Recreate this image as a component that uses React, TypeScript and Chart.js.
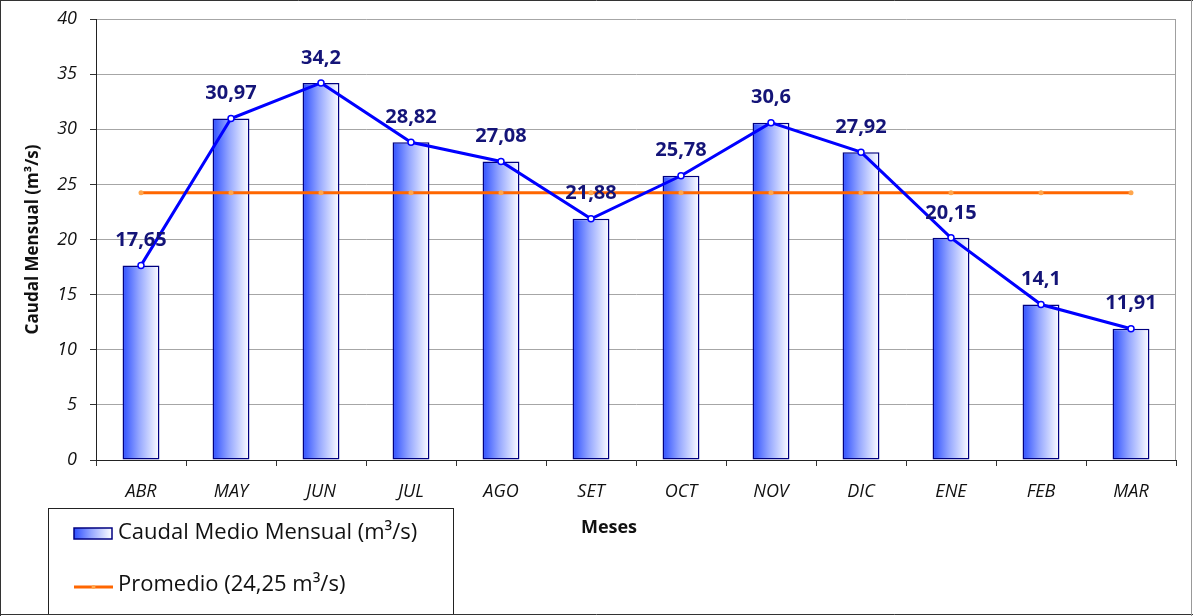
import React, { useEffect, useRef } from 'react';
import { Chart, registerables } from 'chart.js';

Chart.register(...registerables);

// ---- Data ----
const months = ['ABR', 'MAY', 'JUN', 'JUL', 'AGO', 'SET', 'OCT', 'NOV', 'DIC', 'ENE', 'FEB', 'MAR'];
const caudal = [17.65, 30.97, 34.2, 28.82, 27.08, 21.88, 25.78, 30.6, 27.92, 20.15, 14.1, 11.91];
const promedio = [24.25, 24.25, 24.25, 24.25, 24.25, 24.25, 24.25, 24.25, 24.25, 24.25, 24.25, 24.25];
const seriesLabels = ['Caudal Medio Mensual (m³/s)', 'Promedio (24,25 m³/s)'];
const yTitle = 'Caudal Mensual (m³/s)';
const xTitle = 'Meses';
const yMin = 0;
const yMax = 40;
const yStep = 5;

const FONT = '"Open Sans", sans-serif';
const BAR_FRAC = 0.41;
const NAVY = '#000080';
const BLUE = '#0000FF';
const ORANGE = '#FF6600';

function barGradient(ctx: CanvasRenderingContext2D, x0: number, x1: number) {
  const g = ctx.createLinearGradient(x0, 0, x1, 0);
  g.addColorStop(0, '#2E4FFF');
  g.addColorStop(0.45, '#95A7FF');
  g.addColorStop(1, '#FFFFFF');
  return g;
}

const fmt = (v: number) => String(v).replace('.', ',');

const decorPlugin = {
  id: 'decor',
  beforeDatasetsDraw(chart: any) {
    const { ctx, chartArea } = chart;
    ctx.save();
    ctx.strokeStyle = '#A0A0A0';
    ctx.lineWidth = 1;
    ctx.beginPath();
    ctx.moveTo(chartArea.right - 0.5, chartArea.top);
    ctx.lineTo(chartArea.right - 0.5, chartArea.bottom);
    ctx.stroke();
    ctx.restore();
  },
  afterDatasetsDraw(chart: any) {
    const { ctx } = chart;
    const meta = chart.getDatasetMeta(1);
    ctx.save();
    ctx.font = `bold 20px ${FONT}`;
    ctx.fillStyle = '#141478';
    ctx.textAlign = 'center';
    ctx.textBaseline = 'middle';
    meta.data.forEach((pt: any, i: number) => {
      ctx.fillText(fmt(caudal[i]), pt.x, pt.y - 25);
    });
    ctx.restore();
  },
  afterDraw(chart: any) {
    const { ctx, width, height } = chart;
    ctx.save();
    // X axis title
    ctx.font = `bold 18px ${FONT}`;
    ctx.fillStyle = '#111';
    ctx.textAlign = 'center';
    ctx.textBaseline = 'middle';
    ctx.fillText(xTitle, 609, 528);

    // Legend box
    const bx = 48, by = 508, bw = 405, bh = 106;
    ctx.fillStyle = '#FFFFFF';
    ctx.fillRect(bx, by, bw, bh);
    ctx.strokeStyle = '#222';
    ctx.lineWidth = 1;
    ctx.strokeRect(bx + 0.5, by + 0.5, bw, bh);

    // item 1: gradient swatch
    ctx.fillStyle = barGradient(ctx, 74, 112);
    ctx.fillRect(74, 528, 38, 11);
    ctx.strokeStyle = NAVY;
    ctx.lineWidth = 1.5;
    ctx.strokeRect(74, 528, 38, 11);

    ctx.font = `22px ${FONT}`;
    ctx.fillStyle = '#111';
    ctx.textAlign = 'left';
    ctx.textBaseline = 'middle';
    ctx.fillText(chart.data.datasets[2].label, 118, 533);

    // item 2: orange line swatch
    ctx.strokeStyle = ORANGE;
    ctx.lineWidth = 3;
    ctx.beginPath();
    ctx.moveTo(74, 587);
    ctx.lineTo(113, 587);
    ctx.stroke();
    ctx.fillStyle = '#FFA64D';
    ctx.beginPath();
    ctx.arc(93.5, 587, 2, 0, Math.PI * 2);
    ctx.fill();
    ctx.fillStyle = '#111';
    ctx.fillText(chart.data.datasets[0].label, 118, 585);

    // Outer border
    ctx.lineWidth = 1;
    ctx.strokeStyle = '#333';
    ctx.beginPath();
    ctx.moveTo(0, 0.5);
    ctx.lineTo(width, 0.5);
    ctx.moveTo(0.5, 0);
    ctx.lineTo(0.5, height);
    ctx.moveTo(0, height - 1.5);
    ctx.lineTo(width, height - 1.5);
    ctx.stroke();
    ctx.strokeStyle = '#999';
    ctx.beginPath();
    ctx.moveTo(width - 1.5, 0);
    ctx.lineTo(width - 1.5, height);
    ctx.stroke();
    ctx.restore();
  },
};

export default function App() {
  const canvasRef = useRef<HTMLCanvasElement | null>(null);

  useEffect(() => {
    document.body.style.margin = '0';
    const canvas = canvasRef.current;
    if (!canvas) return;
    const chart = new Chart(canvas, {
      type: 'bar',
      data: {
        labels: months,
        datasets: [
          {
            type: 'line',
            label: seriesLabels[1],
            data: promedio,
            borderColor: ORANGE,
            borderWidth: 3,
            pointRadius: 2.5,
            pointBackgroundColor: '#FFA64D',
            pointBorderWidth: 0,
            tension: 0,
            order: 1,
          } as any,
          {
            type: 'line',
            label: 'Caudal',
            data: caudal,
            borderColor: BLUE,
            borderWidth: 3,
            pointRadius: 3,
            pointBackgroundColor: '#FFFFFF',
            pointBorderColor: BLUE,
            pointBorderWidth: 1.5,
            tension: 0,
            order: 0,
          } as any,
          {
            type: 'bar',
            label: seriesLabels[0],
            data: caudal,
            backgroundColor: (c: any) => {
              const ch = c.chart;
              const xs = ch.scales && ch.scales.x;
              if (!xs || c.dataIndex == null || c.type !== 'data') return '#6680FF';
              const cx = xs.getPixelForValue(c.dataIndex);
              const w = (xs.width / months.length) * BAR_FRAC;
              if (!isFinite(cx) || !isFinite(w) || w <= 0) return '#6680FF';
              return barGradient(ch.ctx, cx - w / 2, cx + w / 2);
            },
            borderColor: NAVY,
            borderWidth: 1.5,
            borderSkipped: false,
            barPercentage: BAR_FRAC,
            categoryPercentage: 1,
            order: 2,
          } as any,
        ],
      },
      options: {
        animation: false,
        responsive: false,
        maintainAspectRatio: false,
        layout: { padding: { left: 0, right: 17, top: 19, bottom: 0 } },
        plugins: {
          legend: { display: false },
          tooltip: { enabled: false },
          title: { display: false },
        },
        scales: {
          x: {
            afterFit: (s: any) => {
              s.height = 156;
              s.paddingLeft = 0;
              s.paddingRight = 0;
            },
            grid: {
              display: true,
              drawOnChartArea: false,
              drawTicks: true,
              tickLength: 6,
              tickColor: '#333',
              offset: true,
            },
            border: { display: true, color: '#222', width: 1 },
            ticks: {
              padding: 15,
              color: '#111',
              font: { family: FONT, size: 18, style: 'italic' },
              maxRotation: 0,
              autoSkip: false,
            },
          },
          y: {
            min: yMin,
            max: yMax,
            afterFit: (s: any) => {
              s.width = 96;
              s.paddingTop = 0;
              s.paddingBottom = 0;
            },
            grid: {
              color: '#A6A6A6',
              lineWidth: 1,
              drawTicks: true,
              tickLength: 6,
              tickColor: '#333',
            },
            border: { display: true, color: '#222', width: 1 },
            ticks: {
              stepSize: yStep,
              padding: 13,
              color: '#111',
              font: { family: FONT, size: 18, style: 'italic' },
            },
            title: {
              display: true,
              text: yTitle,
              color: '#111',
              font: { family: FONT, size: 17, weight: 'bold' },
              padding: { top: 23, bottom: 0 },
            },
          },
        },
      },
      plugins: [decorPlugin],
    });
    return () => chart.destroy();
  }, []);

  return (
    <div style={{ position: 'relative', width: 1193, height: 616, background: '#fff' }}>
      <canvas ref={canvasRef} width={1193} height={616} style={{ display: 'block' }} />
    </div>
  );
}
